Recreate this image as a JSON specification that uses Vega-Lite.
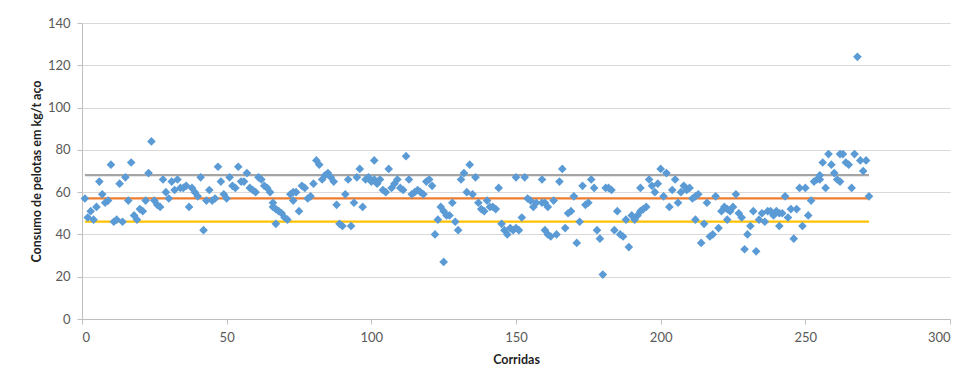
{
  "$schema": "https://vega.github.io/schema/vega-lite/v6.json",
  "width": 868,
  "height": 296,
  "autosize": {"type": "none"},
  "padding": {"left": 82, "top": 23, "right": 15, "bottom": 59},
  "background": "white",
  "config": {
    "view": {"stroke": null},
    "font": "Lato",
    "axis": {
      "labelFont": "Lato", "labelFontSize": 13, "labelColor": "#595959",
      "titleFont": "Lato", "titleFontSize": 12.5, "titleFontWeight": "bold", "titleColor": "#1f1f1f",
      "domainColor": "#BFBFBF", "tickColor": "#BFBFBF", "tickSize": 5, "gridColor": "#D9D9D9"
    }
  },
  "datasets": {
    "runs": [
      {"corrida":1,"consumo":57},{"corrida":2,"consumo":48},{"corrida":3,"consumo":51},{"corrida":4,"consumo":47},{"corrida":5,"consumo":53},
      {"corrida":6,"consumo":65},{"corrida":7,"consumo":59},{"corrida":8,"consumo":55},{"corrida":9,"consumo":56},{"corrida":10,"consumo":73},
      {"corrida":11,"consumo":46},{"corrida":12,"consumo":47},{"corrida":13,"consumo":64},{"corrida":14,"consumo":46},{"corrida":15,"consumo":67},
      {"corrida":16,"consumo":56},{"corrida":17,"consumo":74},{"corrida":18,"consumo":49},{"corrida":19,"consumo":47},{"corrida":20,"consumo":52},
      {"corrida":21,"consumo":51},{"corrida":22,"consumo":56},{"corrida":23,"consumo":69},{"corrida":24,"consumo":84},{"corrida":25,"consumo":56},
      {"corrida":26,"consumo":54},{"corrida":27,"consumo":53},{"corrida":28,"consumo":66},{"corrida":29,"consumo":60},{"corrida":30,"consumo":57},
      {"corrida":31,"consumo":65},{"corrida":32,"consumo":61},{"corrida":33,"consumo":66},{"corrida":34,"consumo":62},{"corrida":35,"consumo":62},
      {"corrida":36,"consumo":63},{"corrida":37,"consumo":53},{"corrida":38,"consumo":62},{"corrida":39,"consumo":60},{"corrida":40,"consumo":58},
      {"corrida":41,"consumo":67},{"corrida":42,"consumo":42},{"corrida":43,"consumo":56},{"corrida":44,"consumo":61},{"corrida":45,"consumo":56},
      {"corrida":46,"consumo":57},{"corrida":47,"consumo":72},{"corrida":48,"consumo":65},{"corrida":49,"consumo":59},{"corrida":50,"consumo":57},
      {"corrida":51,"consumo":67},{"corrida":52,"consumo":63},{"corrida":53,"consumo":62},{"corrida":54,"consumo":72},{"corrida":55,"consumo":65},
      {"corrida":56,"consumo":65},{"corrida":57,"consumo":69},{"corrida":58,"consumo":62},{"corrida":59,"consumo":61},{"corrida":60,"consumo":60},
      {"corrida":61,"consumo":67},{"corrida":62,"consumo":66},{"corrida":63,"consumo":63},{"corrida":64,"consumo":62},{"corrida":65,"consumo":60},
      {"corrida":66,"consumo":55},{"corrida":66,"consumo":53},{"corrida":67,"consumo":45},{"corrida":67,"consumo":52},{"corrida":68,"consumo":51},
      {"corrida":69,"consumo":50},{"corrida":70,"consumo":48},{"corrida":71,"consumo":47},{"corrida":72,"consumo":59},{"corrida":73,"consumo":60},
      {"corrida":73,"consumo":56},{"corrida":74,"consumo":60},{"corrida":75,"consumo":51},{"corrida":76,"consumo":63},{"corrida":77,"consumo":62},
      {"corrida":78,"consumo":57},{"corrida":79,"consumo":58},{"corrida":80,"consumo":64},{"corrida":81,"consumo":75},{"corrida":82,"consumo":73},
      {"corrida":83,"consumo":66},{"corrida":84,"consumo":68},{"corrida":85,"consumo":69},{"corrida":86,"consumo":67},{"corrida":87,"consumo":65},
      {"corrida":88,"consumo":54},{"corrida":89,"consumo":45},{"corrida":90,"consumo":44},{"corrida":91,"consumo":59},{"corrida":92,"consumo":66},
      {"corrida":93,"consumo":44},{"corrida":94,"consumo":55},{"corrida":95,"consumo":67},{"corrida":96,"consumo":71},{"corrida":97,"consumo":53},
      {"corrida":98,"consumo":66},{"corrida":99,"consumo":67},{"corrida":100,"consumo":65},{"corrida":101,"consumo":66},{"corrida":101,"consumo":75},
      {"corrida":102,"consumo":64},{"corrida":103,"consumo":66},{"corrida":104,"consumo":61},{"corrida":105,"consumo":60},{"corrida":106,"consumo":71},
      {"corrida":107,"consumo":62},{"corrida":108,"consumo":64},{"corrida":109,"consumo":66},{"corrida":110,"consumo":62},{"corrida":111,"consumo":61},
      {"corrida":112,"consumo":77},{"corrida":113,"consumo":66},{"corrida":114,"consumo":59},{"corrida":115,"consumo":60},{"corrida":116,"consumo":61},
      {"corrida":117,"consumo":60},{"corrida":118,"consumo":59},{"corrida":119,"consumo":65},{"corrida":120,"consumo":66},{"corrida":121,"consumo":63},
      {"corrida":122,"consumo":40},{"corrida":123,"consumo":47},{"corrida":124,"consumo":53},{"corrida":125,"consumo":51},{"corrida":125,"consumo":27},
      {"corrida":126,"consumo":49},{"corrida":127,"consumo":49},{"corrida":128,"consumo":55},{"corrida":129,"consumo":46},{"corrida":130,"consumo":42},
      {"corrida":131,"consumo":66},{"corrida":132,"consumo":69},{"corrida":133,"consumo":60},{"corrida":134,"consumo":73},{"corrida":135,"consumo":59},
      {"corrida":136,"consumo":67},{"corrida":137,"consumo":55},{"corrida":138,"consumo":52},{"corrida":139,"consumo":51},{"corrida":140,"consumo":56},
      {"corrida":141,"consumo":53},{"corrida":142,"consumo":53},{"corrida":143,"consumo":52},{"corrida":144,"consumo":62},{"corrida":145,"consumo":45},
      {"corrida":146,"consumo":42},{"corrida":147,"consumo":40},{"corrida":148,"consumo":43},{"corrida":149,"consumo":42},{"corrida":150,"consumo":43},
      {"corrida":150,"consumo":67},{"corrida":151,"consumo":42},{"corrida":152,"consumo":48},{"corrida":153,"consumo":67},{"corrida":154,"consumo":57},
      {"corrida":155,"consumo":56},{"corrida":156,"consumo":53},{"corrida":157,"consumo":55},{"corrida":159,"consumo":66},{"corrida":159,"consumo":55},
      {"corrida":160,"consumo":55},{"corrida":160,"consumo":42},{"corrida":161,"consumo":53},{"corrida":161,"consumo":40},{"corrida":162,"consumo":39},
      {"corrida":163,"consumo":56},{"corrida":164,"consumo":40},{"corrida":165,"consumo":65},{"corrida":166,"consumo":71},{"corrida":167,"consumo":43},
      {"corrida":168,"consumo":50},{"corrida":169,"consumo":51},{"corrida":170,"consumo":58},{"corrida":171,"consumo":36},{"corrida":172,"consumo":46},
      {"corrida":173,"consumo":63},{"corrida":174,"consumo":54},{"corrida":175,"consumo":55},{"corrida":176,"consumo":66},{"corrida":177,"consumo":62},
      {"corrida":178,"consumo":42},{"corrida":179,"consumo":38},{"corrida":180,"consumo":21},{"corrida":181,"consumo":62},{"corrida":182,"consumo":62},
      {"corrida":183,"consumo":61},{"corrida":184,"consumo":42},{"corrida":185,"consumo":51},{"corrida":186,"consumo":40},{"corrida":187,"consumo":39},
      {"corrida":188,"consumo":47},{"corrida":189,"consumo":34},{"corrida":190,"consumo":49},{"corrida":191,"consumo":47},{"corrida":192,"consumo":49},
      {"corrida":193,"consumo":51},{"corrida":193,"consumo":62},{"corrida":194,"consumo":52},{"corrida":195,"consumo":53},{"corrida":196,"consumo":66},
      {"corrida":197,"consumo":63},{"corrida":198,"consumo":60},{"corrida":199,"consumo":64},{"corrida":200,"consumo":71},{"corrida":201,"consumo":58},
      {"corrida":202,"consumo":69},{"corrida":203,"consumo":53},{"corrida":204,"consumo":61},{"corrida":205,"consumo":66},{"corrida":206,"consumo":55},
      {"corrida":207,"consumo":60},{"corrida":208,"consumo":63},{"corrida":209,"consumo":61},{"corrida":210,"consumo":62},{"corrida":211,"consumo":57},
      {"corrida":212,"consumo":58},{"corrida":212,"consumo":47},{"corrida":213,"consumo":59},{"corrida":214,"consumo":36},{"corrida":215,"consumo":45},
      {"corrida":216,"consumo":55},{"corrida":217,"consumo":39},{"corrida":218,"consumo":40},{"corrida":219,"consumo":58},{"corrida":220,"consumo":43},
      {"corrida":221,"consumo":51},{"corrida":222,"consumo":53},{"corrida":223,"consumo":52},{"corrida":223,"consumo":47},{"corrida":224,"consumo":51},
      {"corrida":225,"consumo":53},{"corrida":226,"consumo":59},{"corrida":227,"consumo":50},{"corrida":228,"consumo":48},{"corrida":229,"consumo":33},
      {"corrida":230,"consumo":40},{"corrida":231,"consumo":44},{"corrida":232,"consumo":51},{"corrida":233,"consumo":32},{"corrida":234,"consumo":47},
      {"corrida":235,"consumo":50},{"corrida":236,"consumo":46},{"corrida":237,"consumo":51},{"corrida":238,"consumo":51},{"corrida":239,"consumo":49},
      {"corrida":240,"consumo":51},{"corrida":241,"consumo":50},{"corrida":241,"consumo":44},{"corrida":242,"consumo":50},{"corrida":243,"consumo":58},
      {"corrida":244,"consumo":48},{"corrida":245,"consumo":52},{"corrida":246,"consumo":38},{"corrida":247,"consumo":52},{"corrida":248,"consumo":62},
      {"corrida":249,"consumo":44},{"corrida":250,"consumo":62},{"corrida":251,"consumo":49},{"corrida":252,"consumo":56},{"corrida":253,"consumo":65},
      {"corrida":254,"consumo":66},{"corrida":255,"consumo":68},{"corrida":255,"consumo":66},{"corrida":256,"consumo":74},{"corrida":257,"consumo":62},
      {"corrida":258,"consumo":78},{"corrida":259,"consumo":73},{"corrida":260,"consumo":69},{"corrida":261,"consumo":66},{"corrida":262,"consumo":78},
      {"corrida":262,"consumo":65},{"corrida":263,"consumo":78},{"corrida":264,"consumo":74},{"corrida":265,"consumo":73},{"corrida":266,"consumo":62},
      {"corrida":267,"consumo":78},{"corrida":268,"consumo":124},{"corrida":269,"consumo":75},{"corrida":270,"consumo":70},{"corrida":271,"consumo":75},
      {"corrida":272,"consumo":58}
    ],
    "limits": [
      {"linha":"Limite superior","valor":68.1,"inicio":1,"fim":272},
      {"linha":"Média","valor":57.1,"inicio":1,"fim":272},
      {"linha":"Limite inferior","valor":46.1,"inicio":1,"fim":272}
    ]
  },
  "layer": [
    {
      "data": {"name": "limits"},
      "mark": {"type": "rule", "strokeWidth": 2.25},
      "encoding": {
        "x": {"field": "inicio", "type": "quantitative", "scale": {"domain": [0, 300], "nice": false},
              "axis": {"title": "Corridas", "values": [0,50,100,150,200,250,300], "grid": false, "labelPadding": 7, "titleY": 44, "titleBaseline": "alphabetic"}},
        "x2": {"field": "fim"},
        "y": {"field": "valor", "type": "quantitative", "scale": {"domain": [0, 140], "nice": false},
              "axis": {"title": "Consumo de pelotas em kg/t aço", "values": [0,20,40,60,80,100,120,140], "grid": true, "labelPadding": 7, "titleX": -42, "titleBaseline": "alphabetic"}},
        "color": {"field": "linha", "type": "nominal",
                  "scale": {"domain": ["Limite superior","Média","Limite inferior"], "range": ["#A5A5A5","#ED7D31","#FFC000"]},
                  "legend": null}
      }
    },
    {
      "data": {"name": "runs"},
      "mark": {"type": "point", "shape": "diamond", "filled": true, "opacity": 1, "size": 75, "color": "#5B9BD5"},
      "encoding": {
        "x": {"field": "corrida", "type": "quantitative"},
        "y": {"field": "consumo", "type": "quantitative"}
      }
    }
  ]
}
